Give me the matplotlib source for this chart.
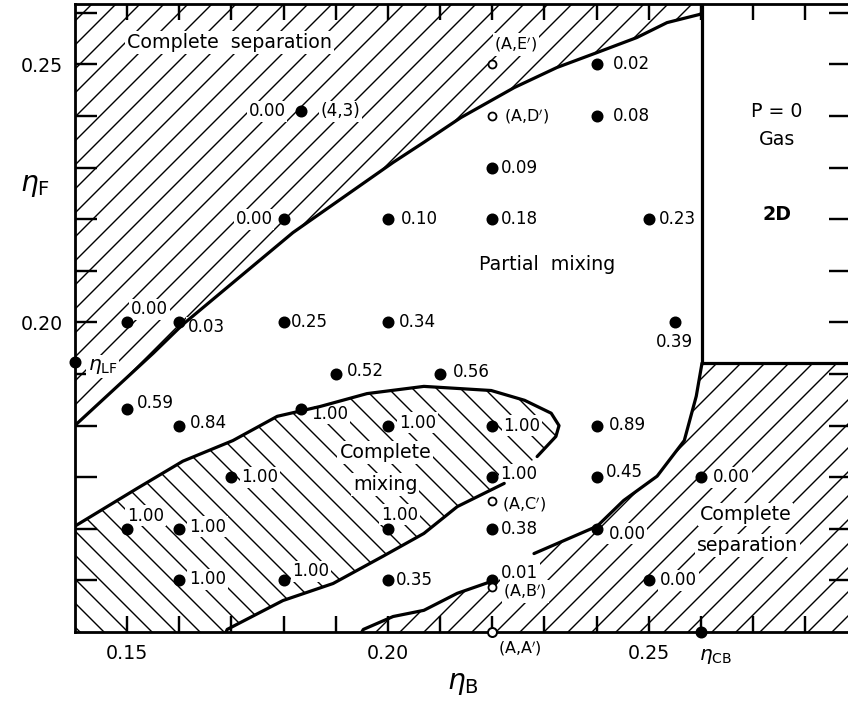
import numpy as np
import matplotlib
matplotlib.use("Agg")
import matplotlib.pyplot as plt

plt.rcParams['font.family'] = ['DejaVu Sans']
plt.rcParams['mathtext.fontset'] = 'dejavusans'
plt.rcParams['hatch.linewidth'] = 0.7

# ---------------- data ----------------
# boundary: complete separation (upper-left) / partial mixing
sepU_B = [0.1400, 0.1550, 0.1607, 0.1818, 0.2010, 0.2069, 0.2140, 0.2242, 0.2324, 0.2401, 0.2477, 0.2535, 0.2598, 0.2602]
sepU_F = [0.1800, 0.1940, 0.1996, 0.2174, 0.2310, 0.2349, 0.2397, 0.2455, 0.2494, 0.2523, 0.2552, 0.2581, 0.2597, 0.2600]
# boundary: complete mixing (upper branch + nose)
mixA_B = [0.1400, 0.1519, 0.1607, 0.1703, 0.1788, 0.1870, 0.1960, 0.2069, 0.2198, 0.2262, 0.2313, 0.2328, 0.2322, 0.2286]
mixA_F = [0.1605, 0.1678, 0.1731, 0.1771, 0.1818, 0.1837, 0.1862, 0.1876, 0.1868, 0.1849, 0.1824, 0.1800, 0.1779, 0.1740]
# boundary: complete mixing (lower branch)
mixB_B = [0.2223, 0.2133, 0.2069, 0.1991, 0.1895, 0.1799, 0.1692, 0.1690]
mixB_F = [0.1688, 0.1643, 0.1591, 0.1547, 0.1494, 0.1461, 0.1405, 0.1400]
# boundary: complete separation (lower-right), upper piece
sepLa_B = [0.2602, 0.2591, 0.2568, 0.2516, 0.2452, 0.2401, 0.2280]
sepLa_F = [0.1921, 0.1857, 0.1771, 0.1702, 0.1655, 0.1605, 0.1552]
# lower piece
sepLb_B = [0.2204, 0.2133, 0.2069, 0.2010, 0.1953, 0.1950]
sepLb_F = [0.1500, 0.1475, 0.1442, 0.1430, 0.1405, 0.1400]
# gas region corner
eta_gas_B = 0.2602
eta_gas_F = 0.1921

# measured points (filled)
pt_B = [0.24, 0.1833, 0.24, 0.22, 0.18, 0.20, 0.22, 0.25, 0.15, 0.16, 0.18, 0.20, 0.255,
        0.19, 0.21, 0.15, 0.16, 0.1833, 0.20, 0.22, 0.24, 0.17, 0.22, 0.24, 0.26,
        0.15, 0.16, 0.20, 0.22, 0.24, 0.16, 0.18, 0.20, 0.22, 0.25]
pt_F = [0.25, 0.2409, 0.24, 0.23, 0.22, 0.22, 0.22, 0.22, 0.20, 0.20, 0.20, 0.20, 0.20,
        0.19, 0.19, 0.1833, 0.18, 0.1833, 0.18, 0.18, 0.18, 0.17, 0.17, 0.17, 0.17,
        0.16, 0.16, 0.16, 0.16, 0.16, 0.15, 0.15, 0.15, 0.15, 0.15]
pt_val = ["0.02", "0.00", "0.08", "0.09", "0.00", "0.10", "0.18", "0.23", "0.00", "0.03", "0.25", "0.34", "0.39",
          "0.52", "0.56", "0.59", "0.84", "1.00", "1.00", "1.00", "0.89", "1.00", "1.00", "0.45", "0.00",
          "1.00", "1.00", "1.00", "0.38", "0.00", "1.00", "1.00", "0.35", "0.01", "0.00"]

# open points
op_B = [0.22, 0.22, 0.22, 0.22, 0.22]
op_F = [0.25, 0.24, 0.1653, 0.1488, 0.14]
op_lab = ["(A,E$'$)", "(A,D$'$)", "(A,C$'$)", "(A,B$'$)", "(A,A$'$)"]

# special marks
eta_LF = 0.1924
eta_CB = 0.26

# ---------------- layout (label offsets, pixels: dx, dy-up, ha) ----------------
pt_off = [(16, 0, 'left'), (-15, 0, 'right'), (16, 0, 'left'), (9, 0, 'left'), (-11, 0, 'right'),
          (13, 0, 'left'), (9, 0, 'left'), (10, 0, 'left'), (4, 13, 'left'), (9, -5, 'left'),
          (7, 0, 'left'), (11, 0, 'left'), (0, -20, 'center'),
          (11, 3, 'left'), (13, 2, 'left'), (10, 6, 'left'), (11, 3, 'left'), (10, -5, 'left'),
          (11, 3, 'left'), (11, 0, 'left'), (12, 1, 'left'), (10, 0, 'left'), (8, 3, 'left'),
          (9, 5, 'left'), (12, 0, 'left'),
          (0, 13, 'left'), (10, 2, 'left'), (-7, 14, 'left'), (9, 0, 'left'), (12, -5, 'left'),
          (10, 1, 'left'), (9, 9, 'left'), (8, 0, 'left'), (9, 7, 'left'), (11, 0, 'left')]
op_off = [(2, 20, 'left'), (12, 0, 'left'), (10, -3, 'left'), (11, -5, 'left'), (6, -16, 'left')]

DPI = 144
fig = plt.figure(figsize=(848 / DPI, 708 / DPI), dpi=DPI)
ax = fig.add_axes([74.8 / 848, 1 - 632 / 708, 776 / 848, 628 / 708])
xmax = 0.14 + 776 / 5218
ymax = 0.14 + 628 / 5160
ax.set_xlim(0.14, xmax)
ax.set_ylim(0.14, ymax)

# ---- hatched regions ----
ux = sepU_B + [eta_gas_B, 0.14]
uy = sepU_F + [ymax, ymax]
ax.fill(ux, uy, facecolor='none', edgecolor='black', hatch='//', linewidth=0, zorder=1)

mx = [0.14] + mixA_B + mixB_B + [0.14]
my = [0.14] + mixA_F + mixB_F + [0.14]
ax.fill(mx, my, facecolor='none', edgecolor='black', hatch='\\\\', linewidth=0, zorder=1)

lx = sepLb_B[::-1] + sepLa_B[::-1] + [xmax, xmax]
ly = sepLb_F[::-1] + sepLa_F[::-1] + [eta_gas_F, 0.14]
ax.fill(lx, ly, facecolor='none', edgecolor='black', hatch='//', linewidth=0, zorder=1)

# ---- boundary lines ----
lw = 1.6
ax.plot(sepU_B, sepU_F, color='black', lw=lw, zorder=3, solid_capstyle='round')
ax.plot(mixA_B, mixA_F, color='black', lw=lw, zorder=3, solid_capstyle='round')
ax.plot(mixB_B, mixB_F, color='black', lw=lw, zorder=3, solid_capstyle='round')
ax.plot(sepLa_B, sepLa_F, color='black', lw=lw, zorder=3, solid_capstyle='round')
ax.plot(sepLb_B, sepLb_F, color='black', lw=lw, zorder=3, solid_capstyle='round')
ax.plot([eta_gas_B, eta_gas_B], [ymax, eta_gas_F], color='black', lw=lw, zorder=3)
ax.plot([eta_gas_B, xmax], [eta_gas_F, eta_gas_F], color='black', lw=lw, zorder=3, clip_on=False)

# ---- points ----
ax.plot(pt_B, pt_F, 'o', ms=5, color='black', zorder=5)
ax.plot(op_B[:4], op_F[:4], 'o', ms=4, mfc='white', mec='black', mew=0.9, zorder=5)
ax.plot(op_B[4:], op_F[4:], 'o', ms=4.5, mfc='white', mec='black', mew=1.0, zorder=6, clip_on=False)
ax.plot([0.14], [eta_LF], 'o', ms=5, color='black', zorder=6, clip_on=False)
ax.plot([eta_CB], [0.14], 'o', ms=5, color='black', zorder=6, clip_on=False)

bb = dict(boxstyle='square,pad=0.1', fc='white', ec='none')
fs = 8.4
for x, y, s, (dx, dy, ha) in zip(pt_B, pt_F, pt_val, pt_off):
    ax.annotate(s, (x, y), xytext=(dx / 2, dy / 2), textcoords='offset points',
                ha=ha, va='center', fontsize=fs, bbox=bb, zorder=2)
ax.annotate("(4,3)", (pt_B[1], pt_F[1]), xytext=(10, 0), textcoords='offset points',
            ha='left', va='center', fontsize=fs, bbox=bb, zorder=2)
for x, y, s, (dx, dy, ha) in zip(op_B, op_F, op_lab, op_off):
    ax.annotate(s, (x, y), xytext=(dx / 2, dy / 2), textcoords='offset points',
                ha=ha, va='center', fontsize=fs - 0.4, bbox=bb, zorder=2, annotation_clip=False)
ax.annotate(r"$\eta_{\rm LF}$", (0.14, eta_LF), xytext=(6.5, -2.5), textcoords='offset points',
            ha='left', va='center', fontsize=10, bbox=bb, zorder=2)
ax.annotate(r"$\eta_{\rm CB}$", (eta_CB, 0.14), xytext=(-1, -12), textcoords='offset points',
            ha='left', va='center', fontsize=10, annotation_clip=False)

# ---- region labels ----
rfs = 9.5
ax.text(0.1697, 0.2543, "Complete  separation", ha='center', va='center', fontsize=rfs, bbox=bb, zorder=2)
ax.text(0.2305, 0.2112, "Partial  mixing", ha='center', va='center', fontsize=rfs, zorder=2)
ax.text(0.1995, 0.1748, "Complete", ha='center', va='center', fontsize=rfs, bbox=bb, zorder=2)
ax.text(0.1995, 0.1686, "mixing", ha='center', va='center', fontsize=rfs, bbox=bb, zorder=2)
ax.text(0.2685, 0.1628, "Complete", ha='center', va='center', fontsize=rfs, bbox=bb, zorder=2)
ax.text(0.2689, 0.1568, "separation", ha='center', va='center', fontsize=rfs, bbox=bb, zorder=2)
ax.text(0.2746, 0.2409, "P = 0", ha='center', va='center', fontsize=rfs)
ax.text(0.2746, 0.2355, "Gas", ha='center', va='center', fontsize=rfs)
ax.text(0.2746, 0.2209, "2D", ha='center', va='center', fontsize=rfs, fontweight='bold')

# ---- axes ----
xt = np.round(np.arange(0.15, 0.2851, 0.01), 2)
yt = np.round(np.arange(0.15, 0.2601, 0.01), 2)
ax.set_xticks(xt)
ax.set_xticklabels([f"{v:.2f}" if v in (0.15, 0.20, 0.25) else "" for v in xt])
ax.set_yticks(yt)
ax.set_yticklabels([f"{v:.2f}" if v in (0.20, 0.25) else "" for v in yt])
ax.tick_params(direction='in', top=True, right=True, width=1.2, labelsize=9.5, pad=6)
ax.tick_params(axis='x', length=8)
ax.tick_params(axis='y', length=11)
for sp in ax.spines.values():
    sp.set_linewidth(1.4)

ax.set_xlabel(r"$\eta_{\rm B}$", fontsize=14, va='center')
ax.xaxis.set_label_coords((463 - 74.8) / 776, (632 - 683) / 628)
ax.set_ylabel(r"$\eta_{\rm F}$", fontsize=14, rotation=0, va='center', ha='center')
ax.yaxis.set_label_coords((35 - 74.8) / 776, (632 - 185) / 628)

fig.savefig("out.png", dpi=DPI)
